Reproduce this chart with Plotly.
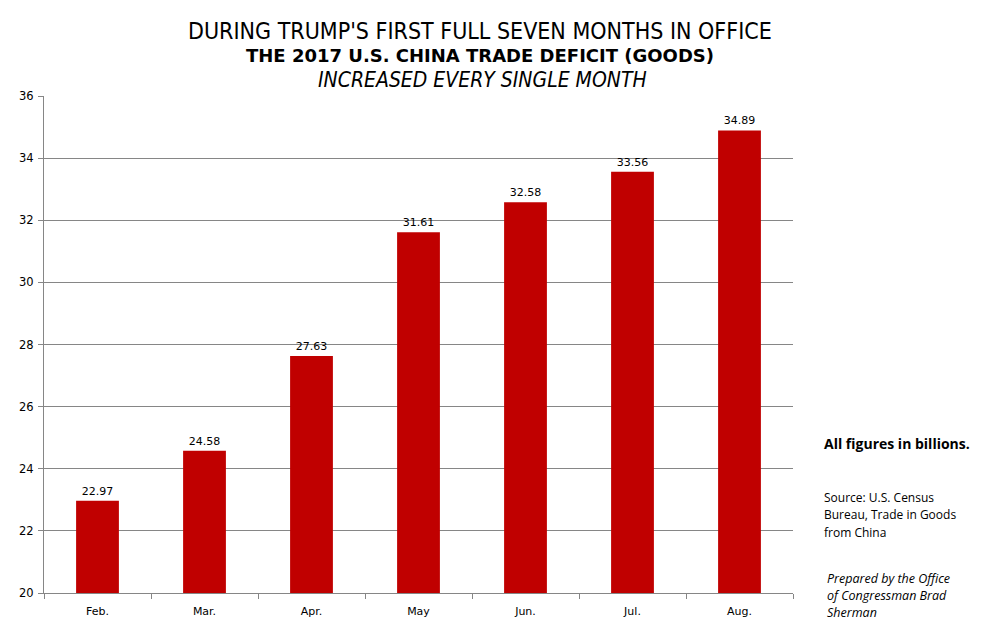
import plotly.graph_objects as go

months = ["Feb.", "Mar.", "Apr.", "May", "Jun.", "Jul.", "Aug."]
deficit = [22.97, 24.58, 27.63, 31.61, 32.58, 33.56, 34.89]
labels = ["22.97", "24.58", "27.63", "31.61", "32.58", "33.56", "34.89"]
y_ticks = [20, 22, 24, 26, 28, 30, 32, 34, 36]

# page body has an 8px margin, so figure-pixel positions = screen - 8
OFF = 8
W, H = 981, 633
L, R, T, B = 44 - OFF, W - (793 - OFF), 96 - OFF, H - (593 - OFF)

fig = go.Figure()
fig.add_trace(go.Bar(
    x=months, y=deficit, text=labels, textposition="outside",
    textfont=dict(family="DejaVu Sans", size=11, color="#000000"),
    marker=dict(color="#C00000", line=dict(width=0)),
    width=0.4, cliponaxis=False,
))

def ann(text, sx, sy, font, size, xanchor="center", color="#000"):
    pw = W - L - R
    ph = H - T - B
    fx = sx - OFF
    fy = H - (sy - OFF)
    return dict(text=text, xref="paper", yref="paper",
                x=(fx - L) / pw, y=(fy - B) / ph,
                xanchor=xanchor, yanchor="middle", showarrow=False, align="left",
                font=dict(family=font, size=size, color=color))

annotations = [
    ann("DURING TRUMP'S FIRST FULL SEVEN MONTHS IN OFFICE", 480, 31, "DejaVu Sans Condensed", 23),
    ann("<b>THE 2017 U.S. CHINA TRADE DEFICIT (GOODS)</b>", 480, 56, "DejaVu Sans", 18),
    ann("<i>INCREASED EVERY SINGLE MONTH</i>", 482, 80, "DejaVu Sans Condensed", 21),
    ann("<b>All figures in billions.</b>", 822, 444, "Open Sans", 14, xanchor="left"),
    ann("Source: U.S. Census", 822, 497, "Open Sans", 12, xanchor="left"),
    ann("Bureau, Trade in Goods", 822, 514, "Open Sans", 12, xanchor="left"),
    ann("from China", 822, 532, "Open Sans", 12, xanchor="left"),
    ann("<i>Prepared by the Office</i>", 825, 578, "Open Sans", 12.5, xanchor="left"),
    ann("<i>of Congressman Brad</i>", 825, 595, "Open Sans", 12.5, xanchor="left"),
    ann("<i>Sherman</i>", 825, 612, "Open Sans", 12.5, xanchor="left"),
]

fig.update_layout(
    width=W, height=H,
    margin=dict(l=L, r=R, t=T, b=B, autoexpand=False),
    paper_bgcolor="white", plot_bgcolor="white",
    showlegend=False,
    font=dict(family="DejaVu Sans", size=11, color="#000000"),
    xaxis=dict(
        showline=True, linecolor="#868686", linewidth=1,
        ticks="outside", ticklen=5, tickcolor="#868686",
        tickson="boundaries", showgrid=False,
        ticklabelstandoff=8,
        tickfont=dict(family="DejaVu Sans", size=11),
    ),
    yaxis=dict(
        range=[20, 36], tickvals=y_ticks,
        showline=True, linecolor="#868686", linewidth=1,
        ticks="outside", ticklen=5, tickcolor="#868686",
        showgrid=True, gridcolor="#868686", gridwidth=1,
        ticklabelstandoff=2,
        tickfont=dict(family="DejaVu Sans", size=11.5),
        zeroline=False,
    ),
    annotations=annotations,
)

fig.write_html("out.html")
